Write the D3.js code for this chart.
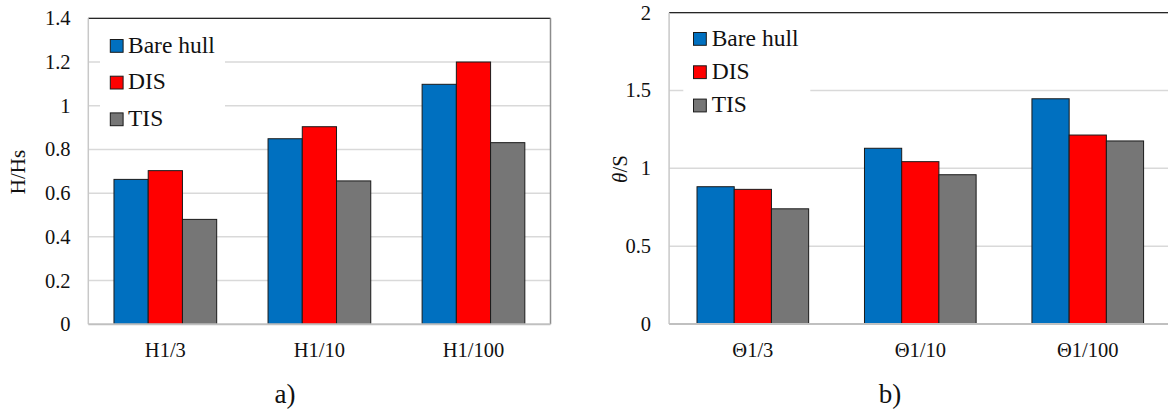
<!DOCTYPE html>
<html>
<head>
<meta charset="utf-8">
<script src="https://cdn.jsdelivr.net/npm/d3@7"></script>
<style>
  html, body { margin: 0; padding: 0; background: #fff; }
  svg { display: block; font-family: "Liberation Serif", "Times New Roman", serif; }
</style>
</head>
<body>
<svg id="chart" width="1168" height="416"></svg>
<script>
// Wave height ratios (panel a)
const categoriesA = ["H1/3", "H1/10", "H1/100"];
const bareHullA = [0.663, 0.849, 1.098];
const disA = [0.703, 0.904, 1.200];
const tisA = [0.480, 0.656, 0.831];
const ticksA = [0, 0.2, 0.4, 0.6, 0.8, 1, 1.2, 1.4];

// Angle ratios (panel b)
const categoriesB = ["\u03981/3", "\u03981/10", "\u03981/100"];
const bareHullB = [0.882, 1.129, 1.447];
const disB = [0.865, 1.043, 1.214];
const tisB = [0.740, 0.959, 1.176];
const ticksB = [0, 0.5, 1, 1.5, 2];

const seriesNames = ["Bare hull", "DIS", "TIS"];
const seriesColors = ["#0070C0", "#FF0000", "#767676"];

const svg = d3.select("#chart");

function drawPanel(p) {
  const g = svg.append("g");
  const x0 = d3.scaleBand().domain(p.categories).range([p.left, p.right])
    .paddingInner(1 / 3).paddingOuter(1 / 6);
  const x1 = d3.scaleBand().domain(seriesNames).range([0, x0.bandwidth()]);
  const y = d3.scaleLinear().domain([0, p.ticks[p.ticks.length - 1]]).range([p.bottom, p.top]);

  // horizontal gridlines
  g.append("g").selectAll("line").data(p.ticks.slice(1)).join("line")
    .attr("x1", p.left).attr("x2", p.right)
    .attr("y1", d => y(d)).attr("y2", d => y(d))
    .attr("stroke", "#d9d9d9").attr("stroke-width", 1.5);

  // plot-area frame
  g.append("line").attr("x1", p.left).attr("x2", p.right)
    .attr("y1", p.top).attr("y2", p.top).attr("stroke", "#262626").attr("stroke-width", 1.3);
  g.append("line").attr("x1", p.left).attr("x2", p.left)
    .attr("y1", p.top).attr("y2", p.bottom).attr("stroke", "#c8c8c8").attr("stroke-width", 1.5);
  g.append("line").attr("x1", p.right).attr("x2", p.right)
    .attr("y1", p.top).attr("y2", p.bottom).attr("stroke", "#8c8c8c").attr("stroke-width", 1.5);

  // bars
  const rows = p.categories.map((c, i) => ({ cat: c, vals: p.series.map(s => s[i]) }));
  g.append("g").selectAll("g").data(rows).join("g")
    .attr("transform", d => `translate(${x0(d.cat)},0)`)
    .selectAll("rect").data(d => d.vals.map((v, k) => ({ v, k }))).join("rect")
    .attr("x", d => x1(seriesNames[d.k]))
    .attr("width", x1.bandwidth())
    .attr("y", d => y(d.v))
    .attr("height", d => y(0) - y(d.v))
    .attr("fill", d => seriesColors[d.k])
    .attr("stroke", "#1a1a1a").attr("stroke-width", 1);

  // category axis line
  g.append("line").attr("x1", p.left).attr("x2", p.right)
    .attr("y1", y(0)).attr("y2", y(0)).attr("stroke", "#c0c0c0").attr("stroke-width", 2);

  // y tick labels
  g.append("g").selectAll("text").data(p.ticks).join("text")
    .attr("x", p.tickX).attr("y", d => y(d)).attr("dy", "0.34em")
    .attr("text-anchor", "end").attr("font-size", 20.5).attr("fill", "#111")
    .text(d => String(d));

  // category labels
  g.append("g").selectAll("text").data(p.categories).join("text")
    .attr("x", d => x0(d) + x0.bandwidth() / 2).attr("y", 357)
    .attr("text-anchor", "middle").attr("font-size", 20.5).attr("fill", "#111")
    .text(d => d);

  // y axis title
  const yt = g.append("text")
    .attr("transform", `translate(${p.titleX},${p.titleY}) rotate(-90)`)
    .attr("text-anchor", "middle").attr("font-size", 21).attr("fill", "#111");
  p.title(yt);

  // panel caption
  g.append("text").attr("x", p.captionX).attr("y", 403)
    .attr("text-anchor", "middle").attr("font-size", 27).attr("fill", "#111")
    .text(p.caption);

  // legend
  const L = p.legend;
  g.append("rect").attr("x", L.boxX).attr("y", L.boxY)
    .attr("width", L.boxW).attr("height", L.boxH).attr("fill", "#fff");
  const items = g.append("g").selectAll("g").data(seriesNames).join("g")
    .attr("transform", (d, i) => `translate(0,${L.y0 + i * L.dy})`);
  items.append("rect").attr("x", L.markX).attr("y", -13.2)
    .attr("width", 12.8).attr("height", 12.8)
    .attr("fill", (d, i) => seriesColors[i]).attr("stroke", "#1a1a1a").attr("stroke-width", 1);
  items.append("text").attr("x", L.textX).attr("y", 0)
    .attr("font-size", 23.5).attr("fill", "#111").text(d => d);
}

drawPanel({
  categories: categoriesA, series: [bareHullA, disA, tisA], ticks: ticksA,
  left: 88.3, right: 550.5, top: 18.3, bottom: 324.3,
  tickX: 70.5, titleX: 25, titleY: 172,
  title: t => t.text("H/Hs"),
  caption: "a)", captionX: 285,
  legend: { boxX: 100, boxY: 24, boxW: 125, boxH: 116, markX: 110.3, textX: 128, y0: 52.7, dy: 36.7 }
});

drawPanel({
  categories: categoriesB, series: [bareHullB, disB, tisB], ticks: ticksB,
  left: 669.1, right: 1171.5, top: 12.7, bottom: 324,
  tickX: 651, titleX: 627, titleY: 169,
  title: t => {
    t.append("tspan").attr("font-style", "italic").text("\u03b8");
    t.append("tspan").text("/S");
  },
  caption: "b)", captionX: 890,
  legend: { boxX: 683.3, boxY: 20, boxW: 127, boxH: 104, markX: 693.5, textX: 711.7, y0: 45.7, dy: 33.3 }
});
</script>
</body>
</html>
